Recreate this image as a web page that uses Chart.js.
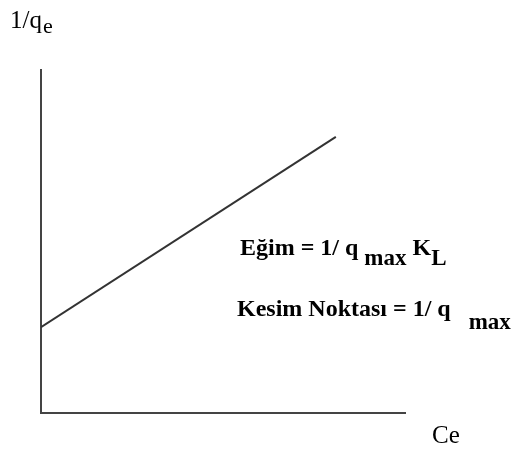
<!DOCTYPE html>
<html>
<head>
<meta charset="utf-8">
<script src="https://cdn.jsdelivr.net/npm/chart.js@4"></script>
<style>
  html, body { margin: 0; padding: 0; background: #fff; }
  #plot { display: block; }
</style>
</head>
<body>
<canvas id="plot" width="515" height="450"></canvas>
<script>
// Langmuir linear plot: 1/qe against Ce
const ceValues = [0, 8.1];
const invQeValues = [2.5, 8.05];
const xRange = [0, 10];
const yRange = [0, 10];

const serif = '"Liberation Serif", "Times New Roman", serif';

// draws runs of text, some lowered as subscripts
function drawRuns(ctx, x, y, runs) {
  let cx = x;
  runs.forEach(r => {
    ctx.font = r.font;
    cx += r.gap || 0;
    ctx.fillText(r.text, cx, y + (r.dy || 0));
    cx += ctx.measureText(r.text).width;
  });
}

const labelsPlugin = {
  id: "labels",
  afterDraw(chart) {
    const ctx = chart.ctx;
    ctx.save();
    ctx.fillStyle = "#000";
    ctx.textBaseline = "alphabetic";
    ctx.textAlign = "left";
    drawRuns(ctx, 10, 28, [
      { text: "1/q", font: "25px " + serif },
      { text: "e", font: "22px " + serif, dy: 5, gap: 1 }
    ]);
    drawRuns(ctx, 432, 443, [
      { text: "Ce", font: "25px " + serif }
    ]);
    drawRuns(ctx, 240, 255, [
      { text: "Eğim = 1/ q", font: "bold 24px " + serif },
      { text: "max", font: "bold 23px " + serif, dy: 10, gap: 6 },
      { text: " K", font: "bold 24px " + serif },
      { text: "L", font: "bold 23px " + serif, dy: 10 }
    ]);
    drawRuns(ctx, 237, 316, [
      { text: "Kesim Noktası = 1/ q", font: "bold 24px " + serif },
      { text: "max", font: "bold 23px " + serif, dy: 13, gap: 18 }
    ]);
    ctx.restore();
  }
};

new Chart(document.getElementById("plot"), {
  type: "scatter",
  data: {
    datasets: [{
      data: ceValues.map((x, i) => ({ x: x, y: invQeValues[i] })),
      showLine: true,
      borderColor: "#333",
      borderWidth: 2,
      pointRadius: 0
    }]
  },
  options: {
    responsive: false,
    animation: false,
    layout: { padding: { left: 41, top: 70, right: 110, bottom: 37 } },
    plugins: { legend: { display: false }, tooltip: { enabled: false } },
    scales: {
      x: {
        min: xRange[0], max: xRange[1],
        grid: { display: false },
        ticks: { display: false },
        border: { color: "#444", width: 2 },
        afterFit: s => { s.height = 0; }
      },
      y: {
        min: yRange[0], max: yRange[1],
        grid: { display: false },
        ticks: { display: false },
        border: { color: "#444", width: 2 },
        afterFit: s => { s.width = 0; }
      }
    }
  },
  plugins: [labelsPlugin]
});
</script>
</body>
</html>
